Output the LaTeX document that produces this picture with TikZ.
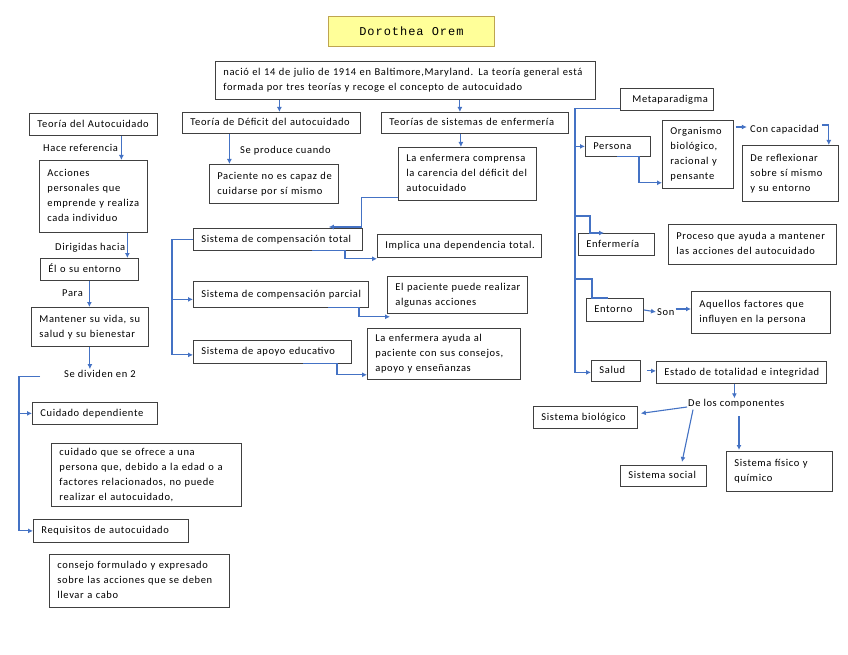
\documentclass[tikz,border=0pt]{standalone}
\usepackage{fontspec}
\setmainfont{Carlito}[LetterSpace=6]
\newfontfamily\monof{Liberation Mono}[LetterSpace=8]
\usetikzlibrary{arrows.meta,calc}
\definecolor{bl}{RGB}{68,114,196}
\definecolor{bd}{RGB}{64,64,64}
\definecolor{ty}{RGB}{255,255,153}
\definecolor{tb}{RGB}{190,165,80}
\newcommand\fsz{\fontsize{10.5}{15}\selectfont}
\newcommand\mkbox[6]{%
 \pgfmathsetmacro\mkTW{#4-#2-16}%
 \pgfmathsetmacro\mkBH{#5-#3}%
 \node[bx, text width=\mkTW pt, minimum height=\mkBH pt] (#1) at (#2,#3) {\begin{tabular}{@{}l@{}}#6\end{tabular}};}
\begin{document}
\begin{tikzpicture}[x=1pt,y=-1pt,
 bx/.style={draw=bd, line width=0.8pt, anchor=north west, inner xsep=8pt, inner ysep=1pt, align=left, font=\fsz},
 lbl/.style={anchor=west, inner sep=1pt, font=\fsz},
 ln/.style={draw=bl, line width=1.1pt},
 ar/.style={ln, -{Latex[length=5pt,width=5pt]}}]
\fill[white] (0,0) rectangle (848,655);
\useasboundingbox (0,0) rectangle (848,655);

% title
\node[draw=tb, fill=ty, line width=0.8pt, anchor=north west, minimum width=166pt, minimum height=30pt,
      font=\monof\fontsize{12}{14}\selectfont] (title) at (328,16) {Dorothea Orem};

% boxes
\mkbox{intro}{215}{61}{595}{99}{nació el 14 de julio de 1914 en Baltimore,Maryland. La teoría general está\\formada por tres teorías y recoge el concepto de autocuidado}
\mkbox{tauto}{29}{113}{157}{135}{Teoría del Autocuidado}
\mkbox{tdef}{182}{112}{360}{133}{Teoría de Déficit del autocuidado}
\mkbox{tsis}{381}{112}{568}{133}{Teorías de sistemas de enfermería}
\mkbox{meta}{620}{88}{713}{110}{\hspace{4pt}Metaparadigma}
\mkbox{acc}{39}{160}{147}{232}{Acciones\\personales que\\emprende y realiza\\cada individuo}
\mkbox{pac}{209}{164}{338}{203}{Paciente no es capaz de\\cuidarse por sí mismo}
\mkbox{enfc}{398}{147}{536}{200}{La enfermera comprensa\\la carencia del déficit del\\autocuidado}
\mkbox{sct}{193}{228}{362}{250}{Sistema de compensación total}
\mkbox{imp}{377}{234}{541}{257}{Implica una dependencia total.}
\mkbox{scp}{193}{281}{368}{307}{Sistema de compensación parcial}
\mkbox{elp}{387}{276}{527}{313}{El paciente puede realizar\\algunas acciones}
\mkbox{sae}{193}{340}{351}{363}{Sistema de apoyo educativo}
\mkbox{lea}{367}{328}{520}{379}{La enfermera ayuda al\\paciente con sus consejos,\\apoyo y enseñanzas}
\mkbox{elo}{40}{258}{138}{280}{Él o su entorno}
\mkbox{man}{31}{307}{148}{346}{Mantener su vida, su\\salud y su bienestar}
\mkbox{cdep}{32}{402}{157}{424}{Cuidado dependiente}
\mkbox{cqs}{51}{443}{241}{506}{cuidado que se ofrece a una\\persona que, debido a la edad o a\\factores relacionados, no puede\\realizar el autocuidado,}
\mkbox{req}{33}{519}{188}{542}{Requisitos de autocuidado}
\mkbox{cons}{49}{554}{229}{607}{consejo formulado y expresado\\sobre las acciones que se deben\\llevar a cabo}
\mkbox{pers}{585}{136}{650}{156}{Persona}
\mkbox{org}{662}{120}{733}{188}{Organismo\\biológico,\\racional y\\pensante}
\mkbox{refl}{742}{145}{838}{201}{De reflexionar\\sobre sí mismo\\y su entorno}
\mkbox{enfe}{578}{233}{654}{255}{Enfermería}
\mkbox{proc}{668}{224}{836}{264}{Proceso que ayuda a mantener\\las acciones del autocuidado}
\mkbox{ent}{586}{298}{643}{321}{Entorno}
\mkbox{aqu}{691}{291}{830}{333}{Aquellos factores que\\influyen en la persona}
\mkbox{sal}{591}{360}{640}{381}{Salud}
\mkbox{est}{656}{361}{826}{383}{Estado de totalidad e integridad}
\mkbox{sbio}{533}{406}{637}{428}{Sistema biológico}
\mkbox{ssoc}{620}{465}{706}{486}{Sistema social}
\mkbox{sfis}{726}{451}{832}{491}{Sistema físico y\\químico}

% labels
\node[lbl] (hace) at (42,148) {Hace referencia};
\node[lbl] (sepr) at (239,151) {Se produce cuando};
\node[lbl] (dirig) at (54,248) {Dirigidas hacia};
\node[lbl] (para) at (61,293) {Para};
\node[lbl] (sdiv) at (63,374) {Se dividen en 2};
\node[lbl] (ccap) at (749,130) {Con capacidad};
\node[lbl] (son) at (656,312) {Son};
\node[lbl] (comp) at (687,404) {De los componentes};

% connectors - top / middle
\draw[ar] ($(tdef.north |- intro.south)+(8,0)$) -- ($(tdef.north)+(8,0)$);
\draw[ar] ($(tsis.north |- intro.south)+(-15,0)$) -- ($(tsis.north)+(-15,0)$);
\draw[ar] ($(tauto.south)+(28,0)$) -- ($(tauto.south |- acc.north)+(28,0)$);
\draw[ar] ($(tdef.south)+(-42,0)$) -- ($(tdef.south |- pac.north)+(-42,0)$);
\draw[ar] ($(tsis.south)+(-14,0)$) -- ($(tsis.south |- enfc.north)+(-14,0)$);
\draw[ar] ($(enfc.south west)+(0,-3)$) -| ($(sct.north east)+(-1,-1)$) -- ($(sct.north east)+(-34,-1)$);
\draw[ar] ($(sct.south west)+(119,0)$) -- ++(33,0) |- ($(imp.south west)+(0,1)$);
\draw[ar] ($(scp.south west)+(135,0)$) -- ++(31,0) |- ($(elp.south west)+(3,3)$);
\draw[ar] ($(sae.south west)+(110,0)$) -- ++(34,0) |- ($(lea.south west)+(0,-5)$);
\draw[ar] (sct.west) -- ++(-21,0) coordinate (b1) |- ($(sae.west)+(0,3)$);
\draw[ar] ($(b1 |- scp.west)+(0,5)$) -- ($(scp.west)+(0,5)$);

% left column
\draw[ar] ($(acc.south)+(34,0)$) -- ($(acc.south |- elo.north)+(34,0)$);
\draw[ar] (elo.south) -- (elo.south |- man.north);
\draw[ar] (man.south) -- (man.south |- sdiv.north);
\coordinate (dv) at ($(sdiv.south west)+(-23,-2)$);
\draw[ar] (dv) -- ++(-21,0) coordinate (b2) |- (req.west);
\draw[ar] (b2 |- cdep.west) -- (cdep.west);

% right side
\draw[ar] ($(meta.south west)+(0,-2)$) -- ++(-45,0) coordinate (b3) |- ($(sal.west)+(0,1.5)$);
\draw[ar] (b3 |- pers.west) -- (pers.west);
\draw[ar] ($(pers.south west)+(32,0)$) -- ++(22,0) |- ($(org.south west)+(0,-6)$);
\draw[ar] ($(org.north east)+(2,7)$) -- ++(11,0);
\draw[ar] ($(ccap.east)+(2,-5)$) -| ($(refl.north east)+(-10,0)$);
\draw[ar] ($(b3 |- enfe.north west)+(0,-17)$) -- ++(15,0) |- ($(enfe.north west)+(26,0)$);
\draw[ln] ($(b3 |- ent.north west)+(0,-19)$) -- ++(17,0) |- ($(ent.north west)+(22,0)$);
\draw[ar] (ent.east) -- (son.west);
\draw[ar] ($(son.east)+(0,-3)$) -- ($(son.east -| aqu.west)+(0,-3)$);
\draw[ar] ($(sal.east)+(6,0)$) -- (sal.east -| est.west);
\draw[ar] ($(est.south)+(-7,0)$) -- ($(est.south |- comp.north)+(-7,0)$);
\draw[ar] ($(comp.west)+(0,3)$) -- ($(sbio.east)+(3,-4)$);
\draw[ar] ($(comp.south west)+(6,0)$) -- ($(ssoc.north west)+(62,-3)$);
\draw[ar] ($(sfis.north west)+(13,-35)$) -- ($(sfis.north west)+(13,-1)$);
\end{tikzpicture}
\end{document}
